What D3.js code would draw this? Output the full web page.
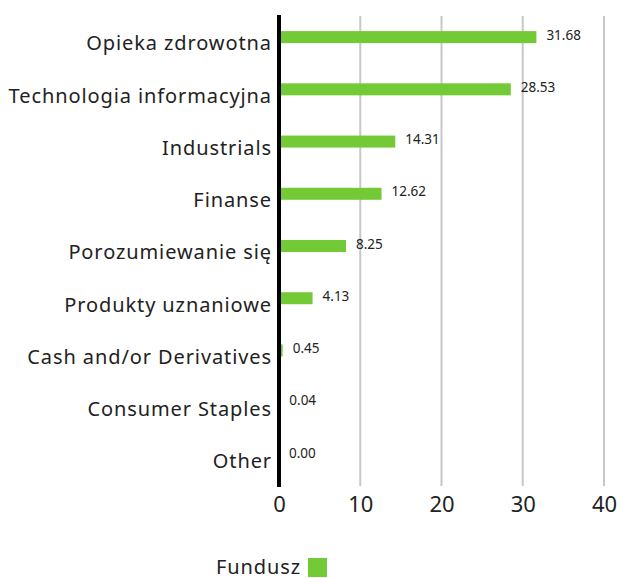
<!DOCTYPE html>
<html>
<head>
  <meta charset="utf-8" />
  <title>Fundusz</title>
  <script src="https://d3js.org/d3.v7.min.js"></script>
  <style>
    body { margin: 0; background: #fff; }
    text { font-family: "Noto Sans", sans-serif; fill: #222; }
  </style>
</head>
<body>
  <script>
    const categories = ["Opieka zdrowotna", "Technologia informacyjna", "Industrials", "Finanse",
      "Porozumiewanie się", "Produkty uznaniowe", "Cash and/or Derivatives", "Consumer Staples", "Other"];
    const values = [31.68, 28.53, 14.31, 12.62, 8.25, 4.13, 0.45, 0.04, 0.00];
    const valueLabels = ["31.68", "28.53", "14.31", "12.62", "8.25", "4.13", "0.45", "0.04", "0.00"];
    const ticks = [0, 10, 20, 30, 40];
    const seriesName = "Fundusz";

    const width = 617, height = 578;
    const plotLeft = 279, plotRight = 604, plotTop = 16, plotBottom = 486;
    const green = "#74c936";

    const svg = d3.select("body").append("svg")
      .attr("width", width)
      .attr("height", height);

    const x = d3.scaleLinear().domain([0, 40]).range([plotLeft, plotRight]);
    const y = d3.scaleBand().domain(categories).range([plotTop, plotBottom]);

    // siatka
    svg.selectAll(".grid")
      .data(ticks.filter(t => t > 0))
      .enter().append("line")
      .attr("x1", d => x(d)).attr("x2", d => x(d))
      .attr("y1", plotTop).attr("y2", plotBottom)
      .style("stroke", "#c8c8c8")
      .style("stroke-width", 2);

    // słupki
    svg.selectAll(".bar")
      .data(values)
      .enter().append("rect")
      .attr("x", x(0))
      .attr("y", (d, i) => y(categories[i]) + y.bandwidth() / 2 - 11)
      .attr("width", d => x(d) - x(0))
      .attr("height", 12)
      .attr("fill", green);

    // wartości
    svg.selectAll(".val")
      .data(values)
      .enter().append("text")
      .attr("x", d => x(d) + 10)
      .attr("y", (d, i) => y(categories[i]) + y.bandwidth() / 2 - 6)
      .attr("dominant-baseline", "middle")
      .style("font-size", "13.5px")
      .text((d, i) => valueLabels[i]);

    // etykiety kategorii
    svg.selectAll(".cat")
      .data(categories)
      .enter().append("text")
      .attr("x", plotLeft - 7)
      .attr("y", d => y(d) + y.bandwidth() / 2 + 3)
      .attr("text-anchor", "end")
      .attr("dominant-baseline", "middle")
      .style("font-size", "20px")
      .style("letter-spacing", "0.9px")
      .text(d => d);

    // oś
    svg.append("line")
      .attr("x1", x(0)).attr("x2", x(0))
      .attr("y1", plotTop - 1).attr("y2", plotBottom + 1)
      .style("stroke", "#000")
      .style("stroke-width", 4);

    const axisX = d3.axisBottom(x).tickValues(ticks).tickSize(0).tickPadding(10);
    const gx = svg.append("g")
      .attr("transform", `translate(0, ${plotBottom})`)
      .call(axisX);
    gx.select(".domain").remove();
    gx.selectAll("text")
      .style("font-size", "22px")
      .style("font-family", "Noto Sans, sans-serif")
      .attr("fill", "#222");

    // legenda
    svg.append("text")
      .attr("x", 301)
      .attr("y", 569)
      .attr("text-anchor", "end")
      .attr("dominant-baseline", "middle")
      .style("font-size", "20px")
      .style("letter-spacing", "0.9px")
      .text(seriesName);
    svg.append("rect")
      .attr("x", 308).attr("y", 558)
      .attr("width", 19).attr("height", 19)
      .attr("fill", green);
  </script>
</body>
</html>
